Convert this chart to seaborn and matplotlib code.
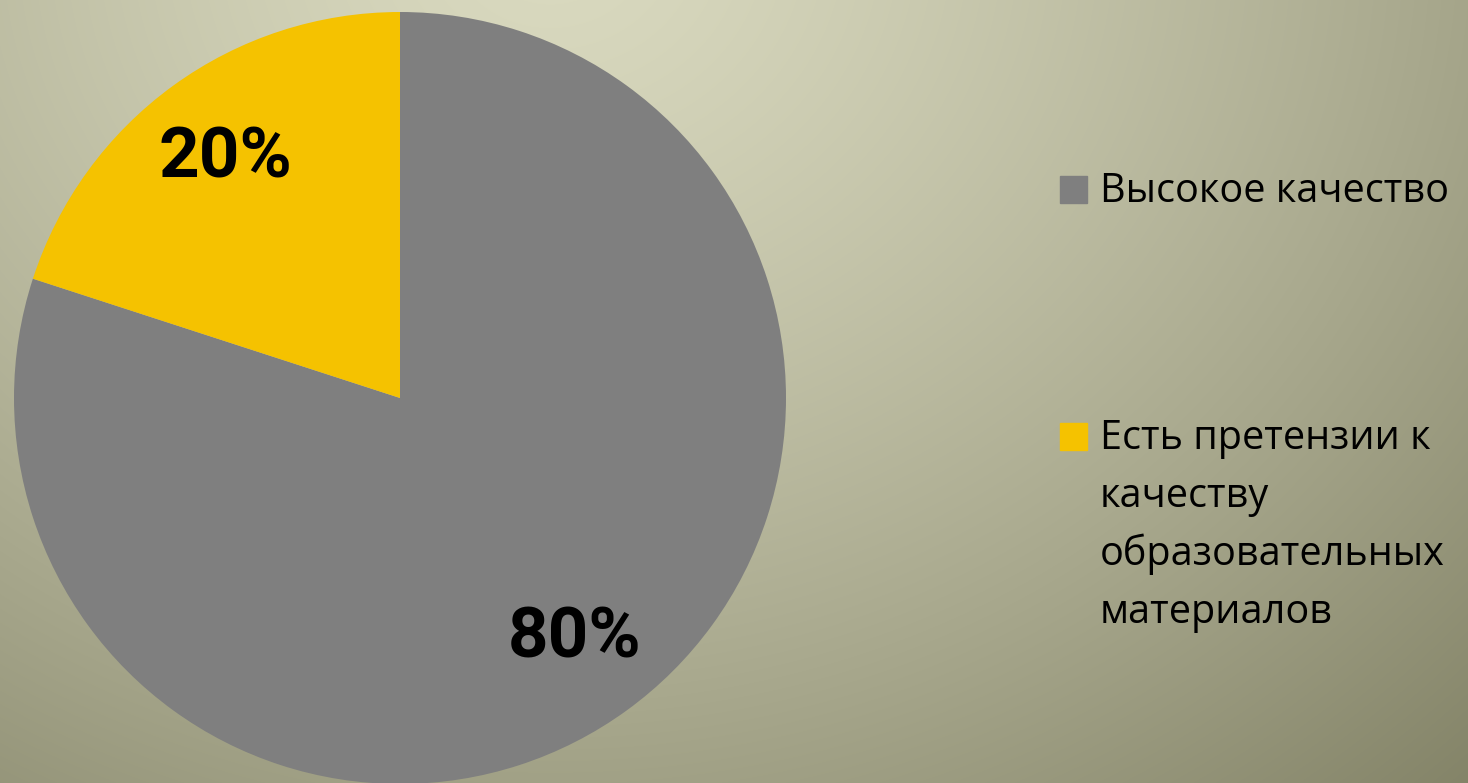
import numpy as np
import seaborn as sns
import matplotlib.pyplot as plt
from matplotlib.patches import Rectangle

categorias = ["Высокое качество", "Есть претензии к\nкачеству\nобразовательных\nматериалов"]
valores = [80, 20]
cores = ["#7f7f7f", "#f5c200"]

sns.set_theme(style="white")
plt.rcParams["font.family"] = ["Open Sans", "DejaVu Sans"]

W, H = 1468, 783
fig = plt.figure(figsize=(W / 100, H / 100), dpi=100)

# fundo com degradê radial (claro no topo, escuro nos cantos)
fundo = fig.add_axes([0, 0, 1, 1], zorder=0)
yy, xx = np.mgrid[0:H, 0:W]
t = np.sqrt(((xx - 550) / 1500) ** 2 + ((yy + 60) / 1300) ** 2)
t = np.clip(t, 0, 1) ** 1.3
claro = np.array([218, 218, 192]) / 255
escuro = np.array([118, 118, 90]) / 255
img = claro[None, None, :] * (1 - t[..., None]) + escuro[None, None, :] * t[..., None]
fundo.imshow(img, aspect="auto", extent=[0, 1, 0, 1], origin="upper")
fundo.axis("off")

ax = fig.add_axes([14 / W, -1 / H, 772 / W, 772 / H], zorder=1)
wedges, textos, pcts = ax.pie(valores, colors=cores, startangle=90, counterclock=False,
                              autopct="%1.0f%%", pctdistance=0.77, radius=1,
                              wedgeprops=dict(linewidth=0))
for p in pcts:
    p.set_fontfamily("Roboto")
    p.set_fontweight("bold")
    p.set_fontsize(51)
    p.set_color("black")
ax.set_xlim(-1, 1)
ax.set_ylim(-1, 1)
ax.set_aspect("equal")
ax.axis("off")

# legenda desenhada à mão
quadrados_y = [176, 423]
base_y = [202, 449]
passo = 58
for cat, cor, qy, by in zip(categorias, cores, quadrados_y, base_y):
    fig.patches.append(Rectangle((1060 / W, (H - qy - 27) / H), 27 / W, 27 / H,
                                 transform=fig.transFigure, color=cor, zorder=3))
    for i, linha in enumerate(cat.split("\n")):
        fig.text(1100 / W, (H - by - i * passo) / H, linha, fontsize=28.5, color="black",
                 va="baseline", ha="left", zorder=3)

fig.savefig("out.png", dpi=100)
